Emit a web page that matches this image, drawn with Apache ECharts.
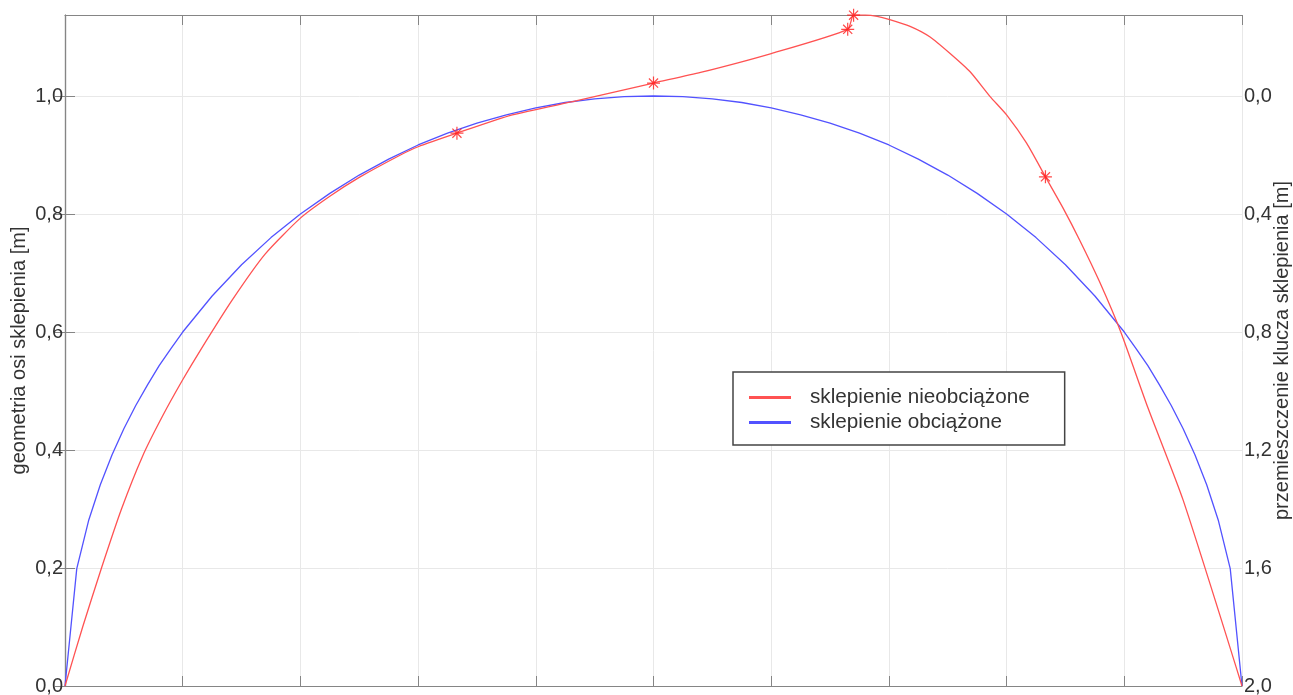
<!DOCTYPE html>
<html>
<head>
<meta charset="utf-8">
<script src="https://cdn.jsdelivr.net/npm/echarts@6/dist/echarts.min.js"></script>
<style>
html,body{margin:0;padding:0;background:#fff;}
#c{width:1293px;height:695px;}
</style>
</head>
<body>
<div id="c"></div>
<script>
// Data
const seriesNames = ['sklepienie nieobciążone', 'sklepienie obciążone'];
const leftAxisName = 'geometria osi sklepienia [m]';
const rightAxisName = 'przemieszczenie klucza sklepienia [m]';

const redX = [0, 0.15, 0.31, 0.48, 0.66, 0.83, 1.0, 1.15, 1.42, 1.7, 2.0, 2.25, 2.5, 2.85, 3.0, 3.33, 3.8, 4.35, 5.0, 5.4, 6.0, 6.65, 6.70, 6.8, 6.9, 7.0, 7.18, 7.35, 7.52, 7.69, 7.86, 8.0, 8.17, 8.33, 8.48, 8.62, 8.79, 8.97, 9.2, 9.5, 10];
const redY = [0, 0.1, 0.2, 0.3, 0.39, 0.458, 0.519, 0.569, 0.654, 0.732, 0.793, 0.830, 0.862, 0.900, 0.914, 0.937, 0.968, 0.992, 1.022, 1.040, 1.072, 1.113, 1.137, 1.137, 1.135, 1.130, 1.118, 1.100, 1.072, 1.041, 0.999, 0.968, 0.920, 0.863, 0.810, 0.756, 0.685, 0.600, 0.472, 0.315, 0];

const markerX = [3.33, 5.0, 6.65, 6.70, 8.33];
const markerY = [0.937, 1.022, 1.113, 1.137, 0.863];

const blueX = [0, 0.1, 0.2, 0.3, 0.4, 0.5, 0.6, 0.7, 0.8, 0.9, 1.0, 1.25, 1.5, 1.75, 2.0, 2.25, 2.5, 2.75, 3.0, 3.25, 3.5, 3.75, 4.0, 4.25, 4.5, 4.75, 5.0, 5.25, 5.5, 5.75, 6.0, 6.25, 6.5, 6.75, 7.0, 7.25, 7.5, 7.75, 8.0, 8.25, 8.5, 8.75, 9.0, 9.1, 9.2, 9.3, 9.4, 9.5, 9.6, 9.7, 9.8, 9.9, 10];
const blueY = [0, 0.199, 0.28, 0.341, 0.392, 0.436, 0.475, 0.510, 0.543, 0.572, 0.6, 0.661, 0.714, 0.760, 0.8, 0.835, 0.866, 0.893, 0.917, 0.937, 0.954, 0.968, 0.980, 0.989, 0.995, 0.999, 1.0, 0.999, 0.995, 0.989, 0.980, 0.968, 0.954, 0.937, 0.917, 0.893, 0.866, 0.835, 0.8, 0.760, 0.714, 0.661, 0.6, 0.572, 0.543, 0.510, 0.475, 0.436, 0.392, 0.341, 0.28, 0.199, 0];

const leftTicks = [0, 0.2, 0.4, 0.6, 0.8, 1.0];
const rightTicks = [2.0, 1.6, 1.2, 0.8, 0.4, 0.0];

const pair = (xs, ys) => xs.map((x, i) => [x, ys[i]]);
const fmt = v => v.toFixed(1).replace('.', ',');

const axisGray = '#858585';
const gridGray = '#e8e8e8';
const txt = '#333333';
const font = 'Liberation Sans, Arial, Helvetica, sans-serif';

const asterisk = 'path://M0 5 L10 5 M5 0 L5 10 M1.5 1.5 L8.5 8.5 M1.5 8.5 L8.5 1.5';

const chart = echarts.init(document.getElementById('c'), null, {renderer: 'canvas'});
chart.setOption({
  animation: false,
  backgroundColor: '#fff',
  textStyle: {fontFamily: font},
  grid: {left: 65, right: 51, top: 15, bottom: 9, show: false, containLabel: false, outerBoundsMode: 'none'},
  legend: {
    data: seriesNames,
    orient: 'vertical',
    left: 733, top: 372,
    padding: [15, 35, 12, 16],
    itemGap: 4,
    itemWidth: 42, itemHeight: 3,
    icon: 'rect',
    borderColor: '#444', borderWidth: 1.5,
    backgroundColor: '#fff',
    textStyle: {fontSize: 20.7, color: txt, fontFamily: font, padding: [0, 0, 0, 14]},
    selectedMode: false
  },
  xAxis: [{
    type: 'value', min: 0, max: 10, interval: 1, position: 'bottom',
    axisLine: {show: true, lineStyle: {color: axisGray, width: 1.2}},
    axisTick: {show: true, inside: true, length: 10, lineStyle: {color: axisGray}},
    axisLabel: {show: false},
    splitLine: {show: true, lineStyle: {color: gridGray, width: 1}}
  }, {
    type: 'value', min: 0, max: 10, interval: 1, position: 'top',
    axisLine: {show: true, onZero: false, lineStyle: {color: axisGray, width: 1.2}},
    axisTick: {show: true, inside: true, length: 10, lineStyle: {color: axisGray}},
    axisLabel: {show: false},
    splitLine: {show: false}
  }],
  yAxis: [{
    type: 'value', min: 0, max: 1.1373, interval: 0.2, position: 'left',
    name: leftAxisName, nameLocation: 'middle', nameGap: 36, nameMoveOverlap: false,
    nameTextStyle: {fontSize: 20, color: txt, fontFamily: font},
    axisLine: {show: true, lineStyle: {color: axisGray, width: 1.2}},
    axisTick: {show: true, inside: true, length: 10, lineStyle: {color: axisGray}},
    axisLabel: {showMaxLabel: false, fontSize: 20, color: txt, margin: 2,
      formatter: v => fmt(v)},
    splitLine: {show: true, lineStyle: {color: gridGray, width: 1}}
  }, {
    type: 'value', min: 0, max: 2.2746, interval: 0.4, position: 'right',
    name: rightAxisName, nameLocation: 'middle', nameGap: 30, nameMoveOverlap: false,
    nameTextStyle: {fontSize: 20, color: txt, fontFamily: font},
    axisLine: {show: true, lineStyle: {color: axisGray, width: 1.2}},
    axisTick: {show: true, inside: true, length: 10, lineStyle: {color: axisGray}},
    axisLabel: {showMaxLabel: false, fontSize: 20, color: txt, margin: 2,
      formatter: v => fmt(2 - v)},
    splitLine: {show: false}
  }],
  series: [{
    name: seriesNames[0], type: 'line', data: pair(redX, redY),
    xAxisIndex: 0, yAxisIndex: 0,
    showSymbol: false, symbol: 'none', smooth: 0.2, clip: false,
    lineStyle: {color: '#ff5252', width: 1.3}, itemStyle: {color: '#ff5252'}, z: 3
  }, {
    name: seriesNames[1], type: 'line', data: pair(blueX, blueY),
    xAxisIndex: 0, yAxisIndex: 0,
    showSymbol: false, symbol: 'none', clip: false,
    lineStyle: {color: '#5252ff', width: 1.3}, itemStyle: {color: '#5252ff'}, z: 2
  }, {
    name: 'markers', type: 'scatter', data: pair(markerX, markerY),
    xAxisIndex: 0, yAxisIndex: 0, clip: false,
    symbol: asterisk, symbolSize: 13,
    itemStyle: {color: 'rgba(0,0,0,0)', borderColor: '#ff1a1a', borderWidth: 1.2},
    z: 4, silent: true
  }]
});
</script>
</body>
</html>
